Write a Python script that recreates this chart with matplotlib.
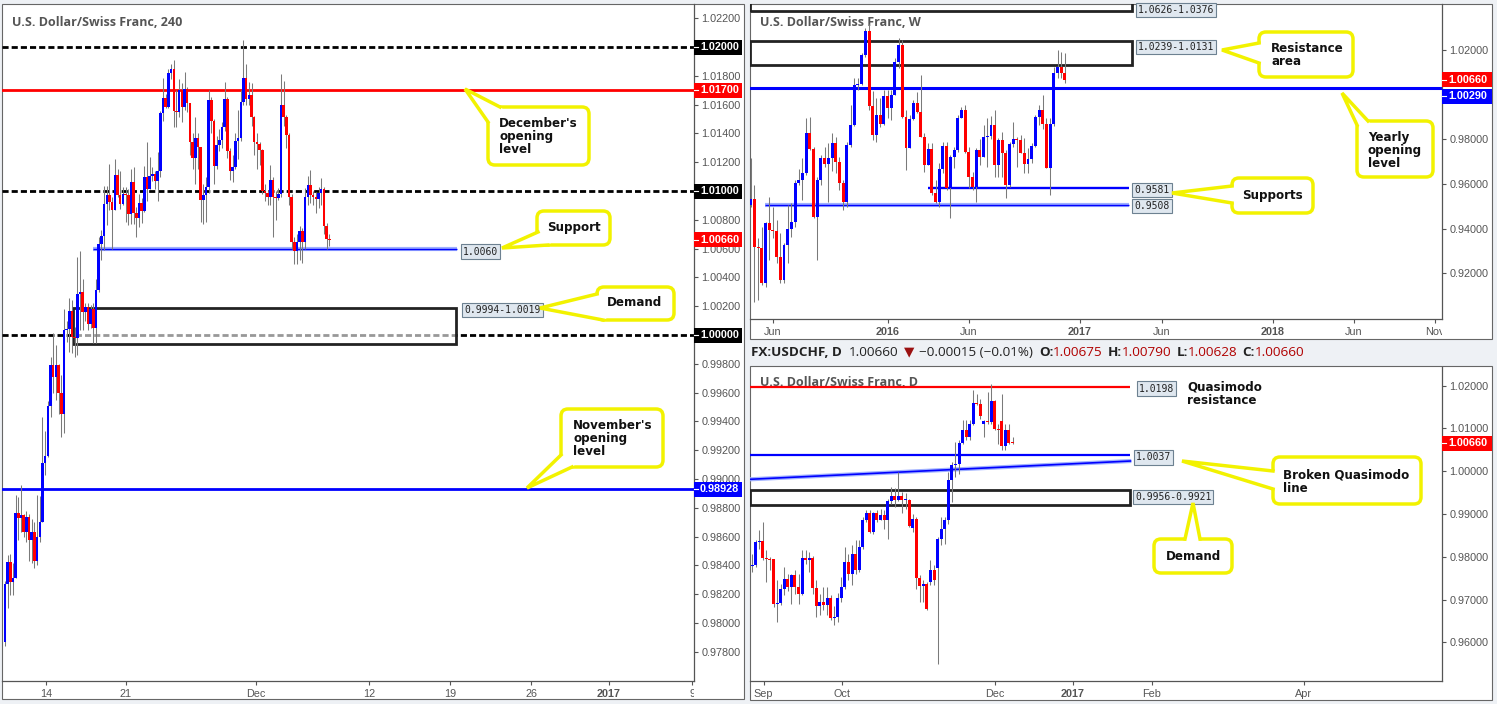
import matplotlib
matplotlib.use("Agg")
import matplotlib.pyplot as plt
import numpy as np
from matplotlib.patches import Rectangle, FancyBboxPatch, Polygon
from matplotlib.lines import Line2D
from matplotlib.transforms import IdentityTransform, Bbox, TransformedBbox

# ---------------- data ----------------
# 4H candles (open of each bar = previous close)
h4_open0 = 0.97870
h4_close = [0.98271, 0.98421, 0.98287, 0.98310, 0.98762, 0.98727, 0.98748, 0.98634, 0.98734, 0.98576,
            0.98634, 0.98431, 0.98595, 0.98701, 0.99109, 0.99160, 0.99507, 0.99792, 0.99711, 0.99792,
            0.99600, 0.99451, 1.00035, 1.00039, 1.00166, 0.99988, 0.99977, 1.00288, 1.00300, 1.00161,
            1.00196, 1.00074, 1.00184, 1.00046, 1.00316, 1.00630, 1.00685, 1.00907, 1.00969, 1.00923,
            1.00870, 1.01112, 1.00973, 1.00911, 1.00980, 1.00969, 1.00842, 1.01061, 1.00847, 1.00814,
            1.00918, 1.00860, 1.01100, 1.01015, 1.01107, 1.01119, 1.01073, 1.01142, 1.01539, 1.01649,
            1.01585, 1.01822, 1.01845, 1.01557, 1.01552, 1.01700, 1.01587, 1.01707, 1.01608, 1.01338,
            1.01230, 1.01368, 1.01303, 1.00939, 1.00969, 1.01031, 1.01631, 1.01488, 1.01172, 1.01322,
            1.01356, 1.01446, 1.01638, 1.01280, 1.01142, 1.01165, 1.01345, 1.01366, 1.01619, 1.01783,
            1.01638, 1.01668, 1.01511, 1.01338, 1.01330, 1.01285, 1.01003, 1.00985, 1.00962, 1.01077,
            1.00962, 1.00950, 1.00980, 1.01599, 1.01511, 1.01389, 1.00962, 1.00646, 1.00584, 1.00646,
            1.00720, 1.00646, 1.00962, 1.01043, 1.00969, 1.00962, 1.00946, 1.00985, 1.01015, 1.00754,
            1.00669, 1.00660]
h4_high = [0.98290, 0.98472, 0.98479, 0.98414, 0.98889, 0.98877, 0.98958, 0.98760, 0.98780, 0.98760,
           0.98720, 0.98700, 0.98890, 0.98880, 0.99433, 0.99330, 0.99540, 0.99850, 1.00012, 0.99930,
           0.99800, 0.99720, 1.00178, 1.00100, 1.00254, 1.00242, 1.00058, 1.00542, 1.00584, 1.00392,
           1.00220, 1.00219, 1.00208, 1.00219, 1.00392, 1.00681, 1.00727, 1.01036, 1.01038, 1.01188,
           1.00957, 1.01223, 1.01153, 1.01142, 1.01027, 1.01027, 1.01015, 1.01153, 1.01165, 1.00888,
           1.00980, 1.00950, 1.01176, 1.01338, 1.01234, 1.01165, 1.01142, 1.01269, 1.01557, 1.01788,
           1.01672, 1.01845, 1.01880, 1.01908, 1.01700, 1.01780, 1.01750, 1.01830, 1.01720, 1.01610,
           1.01400, 1.01511, 1.01400, 1.01303, 1.01050, 1.01096, 1.01700, 1.01650, 1.01500, 1.01380,
           1.01430, 1.01480, 1.01760, 1.01650, 1.01300, 1.01250, 1.01400, 1.01560, 1.01700, 1.02050,
           1.01885, 1.01760, 1.01750, 1.01520, 1.01400, 1.01340, 1.01290, 1.01050, 1.01000, 1.01180,
           1.01100, 1.01000, 1.01020, 1.01815, 1.01765, 1.01530, 1.01400, 1.00980, 1.00680, 1.00700,
           1.00760, 1.00740, 1.01020, 1.01107, 1.01147, 1.01000, 1.00990, 1.01030, 1.01090, 1.01030,
           1.00777, 1.00700]
h4_low = [0.97842, 0.98102, 0.98194, 0.98194, 0.98565, 0.98576, 0.98634, 0.98599, 0.98560, 0.98430,
          0.98420, 0.98380, 0.98400, 0.98560, 0.98780, 0.99030, 0.99150, 0.99430, 0.99600, 0.99550,
          0.99450, 0.99294, 0.99320, 0.99950, 0.99885, 0.99873, 0.99850, 0.99862, 1.00035, 1.00035,
          1.00100, 1.00035, 1.00046, 0.99942, 0.99942, 1.00300, 1.00519, 1.00588, 1.00761, 1.00865,
          1.00600, 1.00865, 1.00957, 1.00877, 1.00900, 1.00784, 1.00761, 1.00773, 1.00773, 1.00681,
          1.00750, 1.00780, 1.00854, 1.00934, 1.01050, 1.01073, 1.01015, 1.00934, 1.01100, 1.01488,
          1.01580, 1.01580, 1.01780, 1.01446, 1.01446, 1.01511, 1.01480, 1.01560, 1.01550, 1.01250,
          1.01150, 1.01050, 1.01150, 1.00784, 1.00770, 1.00784, 1.00985, 1.01400, 1.01050, 1.01150,
          1.01280, 1.01300, 1.01420, 1.01230, 1.01080, 1.01061, 1.01150, 1.01220, 1.01350, 1.01600,
          1.01600, 1.01600, 1.01450, 1.01250, 1.01150, 1.01180, 1.00980, 1.00930, 1.00900, 1.00900,
          1.00681, 1.00800, 1.00940, 1.00960, 1.01450, 1.01300, 1.00900, 1.00600, 1.00496, 1.00496,
          1.00520, 1.00500, 1.00600, 1.00900, 1.00920, 1.00900, 1.00850, 1.00880, 1.00900, 1.00700,
          1.00600, 1.00620]
h4_tick_pos = [15.3, 45.1, 93.7, 135.8, 166.0, 196.3, 225.4, 256.4]
h4_tick_lab = ["14", "21", "Dec", "12", "19", "26", "2017", "9"]
h4_yticks = [0.978, 0.980, 0.982, 0.984, 0.986, 0.988, 0.990, 0.992, 0.994, 0.996, 0.998,
             1.000, 1.002, 1.004, 1.006, 1.008, 1.010, 1.012, 1.014, 1.016, 1.018, 1.020, 1.022]
h4_round_levels = [1.0200, 1.0100, 1.0000]
h4_dec_open = 1.0170
h4_nov_open = 0.98928
h4_support = 1.0060
h4_demand = (0.9994, 1.0019)

# weekly candles (open of each bar = previous close)
w_open0 = 0.95065
w_close = [0.95318, 0.93200, 0.93126, 0.91560, 0.94245, 0.93946, 0.93902, 0.92753, 0.91709, 0.93275,
           0.94006, 0.94319, 0.96064, 0.96183, 0.96482, 0.98271, 0.97556, 0.94543, 0.96183, 0.97153,
           0.96884, 0.97153, 0.97824, 0.97004, 0.96034, 0.95214, 0.97749, 0.98644, 1.00434, 1.00480,
           1.01776, 1.02865, 0.99494, 0.98197, 0.99092, 0.98689, 0.99942, 0.99390, 0.99987, 1.01478,
           1.02224, 0.99017, 0.97600, 0.98898, 0.99614, 0.99241, 0.98122, 0.96855, 0.97556, 0.95587,
           0.95214, 0.96661, 0.97720, 0.95811, 0.97227, 0.97526, 0.98943, 0.99315, 0.97451, 0.96333,
           0.95855, 0.97526, 0.97227, 0.98122, 0.98152, 0.98644, 0.96855, 0.97973, 0.97406, 0.95960,
           0.97794, 0.98003, 0.97973, 0.97406, 0.96899, 0.97108, 0.97705, 0.99017, 0.99315, 0.98689,
           0.96735, 0.98689, 1.00956, 1.01254, 1.00956, 1.00660]
w_high = [0.97153, 0.95960, 0.93573, 0.94095, 0.94300, 0.95438, 0.94990, 0.94394, 0.93797, 0.93350,
          0.95065, 0.95139, 0.96183, 0.96661, 0.97153, 0.98943, 0.99017, 0.97675, 0.96333, 0.97300,
          0.97675, 0.97824, 0.98271, 0.98122, 0.97227, 0.96183, 0.97898, 0.99539, 1.00733, 1.00733,
          1.01851, 1.02969, 1.03148, 1.00181, 0.99838, 0.99838, 1.00210, 1.00210, 1.00210, 1.01627,
          1.02522, 1.02447, 0.99315, 0.99092, 0.99763, 1.00135, 1.00881, 0.98271, 0.97824, 0.97824,
          0.96183, 0.96929, 0.97898, 0.97898, 0.97300, 0.97675, 0.99092, 0.99464, 0.99539, 0.97675,
          0.96557, 0.97600, 0.98003, 0.98644, 0.98943, 0.99047, 0.99315, 0.98048, 0.98346, 0.97526,
          0.97898, 0.98793, 0.98122, 0.98197, 0.98048, 0.97600, 0.97824, 0.99092, 0.99539, 0.99987,
          0.98943, 0.98943, 1.01254, 1.02001, 1.01925, 1.01851]
w_low = [0.94990, 0.90740, 0.90814, 0.91500, 0.91411, 0.92604, 0.93573, 0.92455, 0.91560, 0.91560,
         0.92455, 0.93648, 0.94095, 0.95960, 0.95289, 0.96408, 0.97526, 0.94500, 0.92604, 0.95960,
         0.96780, 0.95214, 0.96600, 0.96482, 0.95736, 0.94841, 0.94990, 0.97675, 0.98600, 1.00210,
         1.00434, 1.01700, 0.99315, 0.97973, 0.97898, 0.98569, 0.98644, 0.98943, 0.98868, 0.99987,
         1.01180, 0.98943, 0.96631, 0.97600, 0.98868, 0.99166, 0.98092, 0.96556, 0.96855, 0.95512,
         0.95139, 0.94990, 0.96482, 0.95736, 0.94468, 0.96735, 0.97451, 0.98943, 0.97376, 0.95811,
         0.95736, 0.95214, 0.96855, 0.97227, 0.96780, 0.98003, 0.96333, 0.96333, 0.96333, 0.95363,
         0.95885, 0.97675, 0.96780, 0.97376, 0.96482, 0.96482, 0.96929, 0.97675, 0.98644, 0.98480,
         0.96735, 0.95512, 0.98600, 1.00732, 1.00732, 1.00538]
w_tick_pos = [6.0, 37.0, 59.0, 89.0, 111.2, 141.3, 163.2, 185.1]
w_tick_lab = ["Jun", "2016", "Jun", "2017", "Jun", "2018", "Jun", "Nov"]
w_yticks = [0.92, 0.94, 0.96, 0.98, 1.00, 1.02]
w_yearly_open = 1.0029
w_supports = [0.9581, 0.9508]
w_resistance = (1.0131, 1.0239)
w_upper_zone = (1.0376, 1.0626)

# daily candles
d_open = [0.97780, 0.97804, 0.98349, 0.98364, 0.97983, 0.97960, 0.97940, 0.96908, 0.96924, 0.97259,
          0.97492, 0.97300, 0.97570, 0.97297, 0.97142, 0.97983, 0.97936, 0.97983, 0.97282, 0.96854,
          0.96947, 0.96869, 0.97048, 0.96581, 0.96600, 0.97048, 0.97297, 0.97882, 0.97609, 0.98076,
          0.97687, 0.98232, 0.98871, 0.99034, 0.98583, 0.99026, 0.98871, 0.98972, 0.98855, 0.99307,
          0.99416, 0.99322, 0.99416, 0.99322, 0.99338, 0.98684, 0.98894, 0.97516, 0.97313, 0.97375,
          0.97414, 0.97702, 0.97749, 0.98427, 0.98645, 0.98855, 0.99790, 1.00140, 1.00179, 1.00670,
          1.00974, 1.00802, 1.01098, 1.01597, 1.01581, 1.01114, 1.01176, 1.01153, 1.01636, 1.00997,
          1.01176, 1.00584, 1.00958, 1.00675]
d_close = [0.97804, 0.98349, 0.98364, 0.97983, 0.97960, 0.97940, 0.96908, 0.96924, 0.97259, 0.97492,
           0.97300, 0.97570, 0.97297, 0.97142, 0.97983, 0.97936, 0.97983, 0.97282, 0.96854, 0.96947,
           0.96869, 0.97048, 0.96581, 0.96600, 0.97048, 0.97297, 0.97882, 0.97609, 0.98076, 0.97687,
           0.98232, 0.98871, 0.99034, 0.98583, 0.99026, 0.98871, 0.98972, 0.98855, 0.99307, 0.99416,
           0.99322, 0.99416, 0.99322, 0.99338, 0.98723, 0.98894, 0.97516, 0.97313, 0.97375, 0.96791,
           0.97702, 0.97450, 0.98427, 0.98645, 0.98855, 0.99790, 1.00140, 1.00179, 1.00670, 1.00974,
           1.00802, 1.01098, 1.01597, 1.01581, 1.01285, 1.01176, 1.01153, 1.01636, 1.00997, 1.00974,
           1.00584, 1.00958, 1.00662, 1.00660]
d_high = [0.98076, 0.98403, 0.98621, 0.98816, 0.98154, 0.98000, 0.97960, 0.97453, 0.97375, 0.97765,
          0.97600, 0.97609, 0.97687, 0.97609, 0.98170, 0.98154, 0.98115, 0.98020, 0.97453, 0.97142,
          0.97297, 0.97297, 0.97103, 0.96850, 0.97150, 0.97531, 0.98232, 0.98076, 0.98271, 0.98388,
          0.98403, 0.98933, 0.99089, 0.99089, 0.99050, 0.99089, 0.99128, 0.99089, 0.99361, 0.99634,
          0.99611, 0.99984, 0.99525, 0.99500, 0.99361, 0.99011, 0.98933, 0.97570, 0.97453, 0.97414,
          0.97921, 0.97800, 0.98466, 0.98933, 0.98933, 0.99984, 1.00218, 1.00685, 1.00724, 1.01207,
          1.01192, 1.01207, 1.01893, 1.01815, 1.01698, 1.01200, 1.01854, 1.02048, 1.01659, 1.01114,
          1.01815, 1.01114, 1.01114, 1.00790]
d_low = [0.97648, 0.97765, 0.98193, 0.97921, 0.97414, 0.97700, 0.96830, 0.96480, 0.96869, 0.97103,
         0.97200, 0.96908, 0.97142, 0.96908, 0.97103, 0.97843, 0.97648, 0.97142, 0.96597, 0.96636,
         0.96752, 0.96636, 0.96519, 0.96400, 0.96480, 0.96947, 0.97259, 0.97453, 0.97336, 0.97609,
         0.97650, 0.98193, 0.98816, 0.98559, 0.98544, 0.98816, 0.98855, 0.98660, 0.98427, 0.99245,
         0.99167, 0.99300, 0.99034, 0.99128, 0.98699, 0.98583, 0.97259, 0.96947, 0.96947, 0.96752,
         0.97336, 0.97350, 0.95506, 0.98271, 0.98310, 0.98777, 0.99283, 0.99868, 0.99945, 1.00631,
         1.00724, 1.00724, 1.01075, 1.01542, 1.01231, 1.00802, 1.01114, 1.01114, 1.00958, 1.00646,
         1.00491, 1.00491, 1.00646, 1.00628]
d_tick_pos = [3.2, 25.2, 68.0, 89.9, 112.0, 154.7]
d_tick_lab = ["Sep", "Oct", "Dec", "2017", "Feb", "Apr"]
d_yticks = [0.96, 0.97, 0.98, 0.99, 1.00, 1.01, 1.02]
d_qm_resistance = 1.0198
d_broken_qm = 1.0037
d_demand = (0.9921, 0.9956)
d_trend_x = [-0.6, 106.3]
d_trend_y = [0.99813, 1.00241]
last_price = 1.00660

# ---------------- figure ----------------
W, H = 1497, 704
PX = IdentityTransform()
BLUE, RED, WICK, GREY, YEL = "#0000ff", "#ff0000", "#7a7a7a", "#555555", "#f2f200"

plt.rcParams["font.family"] = ["Liberation Sans", "DejaVu Sans"]
fig = plt.figure(figsize=(W / 100, H / 100), dpi=100)
fig.patch.set_facecolor("#eef1f5")


def frame(x0, y0, x1, y1):
    fig.add_artist(Rectangle((x0, H - y1), x1 - x0, y1 - y0, transform=PX,
                             fc="white", ec="#666666", lw=0.8, zorder=-1))


def make_axes(x0, y0, x1, y1, xlim, ylim):
    ax = fig.add_axes([x0 / W, 1 - y1 / H, (x1 - x0) / W, (y1 - y0) / H])
    ax.set_facecolor("none")
    ax.spines["left"].set_visible(False)
    ax.spines["top"].set_visible(False)
    for s in ("right", "bottom"):
        ax.spines[s].set_color(GREY)
        ax.spines[s].set_linewidth(0.9)
    ax.yaxis.tick_right()
    ax.tick_params(axis="both", colors=GREY, labelcolor=GREY, labelsize=7.8,
                   length=3, width=0.8, pad=2.5)
    ax.set_xlim(*xlim)
    ax.set_ylim(*ylim)
    return ax


def candles(ax, o, h, l, c, width):
    o, h, l, c = (np.asarray(v, dtype=float) for v in (o, h, l, c))
    h = np.maximum(h, np.maximum(o, c))
    l = np.minimum(l, np.minimum(o, c))
    x = np.arange(len(c))
    y0, y1 = ax.get_ylim()
    onepx = (y1 - y0) / ax.bbox.height
    body = c - o
    body = np.where(np.abs(body) < onepx, np.where(body >= 0, onepx, -onepx), body)
    col = np.where(c >= o, BLUE, RED)
    ax.vlines(x, l, h, color=WICK, lw=0.75, zorder=3)
    ax.bar(x, body, bottom=o, width=width, color=col, lw=0, zorder=4)


def set_dates(ax, pos, labs, clip_right=None):
    ax.set_xticks(pos)
    ax.set_xticklabels(labs, fontsize=7.8)
    for tk, lab in zip(ax.xaxis.get_major_ticks(), labs):
        if lab.isdigit() and len(lab) == 4:
            tk.label1.set_fontweight("bold")
    if clip_right is not None:
        tk = ax.xaxis.get_major_ticks()[-1]
        tk.label1.set_clip_box(TransformedBbox(Bbox.from_extents(0, 0, clip_right, H), PX))
        tk.label1.set_clip_on(True)


def price_tag(ax, price, text, bg, dy=0, wpx=48):
    xd = ax.transAxes.transform((1, 0))[0]
    yd = ax.transData.transform((0, price))[1] - dy
    fig.add_artist(Rectangle((xd, yd - 7.5), wpx, 15, transform=PX, fc=bg, ec="none", zorder=5))
    fig.add_artist(Line2D([xd, xd + 4], [yd, yd], transform=PX, color="white", lw=0.8, zorder=6))
    fig.text(xd + 6, yd, text, transform=PX, ha="left", va="center", fontsize=7.8,
             fontweight="bold", color="white", zorder=6)


def level_label(ax, x, price, text, dy=0, dx=6):
    ax.annotate(text, xy=(x, price), xycoords="data", xytext=(dx, -dy), textcoords="offset pixels",
                ha="left", va="center", fontsize=7, family="DejaVu Sans Mono", color="#222222",
                bbox=dict(boxstyle="square,pad=0.22", fc="#dfe7ef", ec="#6d8191", lw=0.8),
                zorder=10, annotation_clip=False)


def callout(box, tip, b1, b2, text, txy):
    x0, y0, x1, y1 = box
    fig.add_artist(FancyBboxPatch((x0, H - y1), x1 - x0, y1 - y0,
                                  boxstyle="round,pad=0,rounding_size=7", transform=PX,
                                  fc="white", ec=YEL, lw=2.5, zorder=20))
    cx, cy = (x0 + x1) / 2, (y0 + y1) / 2

    def inward(p, d=9):
        vx, vy = cx - p[0], cy - p[1]
        n = np.hypot(vx, vy)
        return (p[0] + vx / n * d, p[1] + vy / n * d)

    pts = [tip, b1, inward(b1), inward(b2), b2]
    fig.add_artist(Polygon([(px, H - py) for px, py in pts], closed=True, transform=PX,
                           fc="white", ec="none", zorder=21))
    fig.add_artist(Line2D([b1[0], tip[0], b2[0]], [H - b1[1], H - tip[1], H - b2[1]],
                          transform=PX, color=YEL, lw=2.5, zorder=22, solid_joinstyle="miter"))
    fig.text(txy[0], H - txy[1], text, transform=PX, ha="left", va="top", fontsize=8.6,
             fontweight="bold", family="DejaVu Sans", color="#111111", linespacing=1.0, zorder=23)


def title(x, y, s):
    fig.text(x, H - y, s, transform=PX, ha="left", va="center", fontsize=9,
             fontweight="bold", family=["Open Sans", "DejaVu Sans"], color=GREY, zorder=-0.5)


# panel frames
frame(2, 4, 744, 699)
frame(750, 4, 1492, 339)
frame(750, 366, 1492, 700)

# ---------------- left: 4H ----------------
ax1 = make_axes(2, 4, 694, 681, (-1.1, 257.1), (0.97597, 1.02299))
ax1.set_yticks(h4_yticks)
ax1.yaxis.set_major_formatter(plt.FormatStrFormatter("%.5f"))
set_dates(ax1, h4_tick_pos, h4_tick_lab, clip_right=694)
for lv in h4_round_levels:
    ax1.axhline(lv, color="black", lw=2, dashes=(2.2, 1.1), zorder=1.5)
ax1.axhline(h4_dec_open, color=RED, lw=2, zorder=1.6)
ax1.axhline(h4_nov_open, color=BLUE, lw=2, zorder=1.6)
ax1.add_patch(Rectangle((25.4, h4_demand[0]), 168.3 - 25.4, h4_demand[1] - h4_demand[0],
                        fc=(1, 1, 1, 0.6), ec="#222222", lw=2.0, zorder=2))
ax1.hlines(h4_support, 32.8, 168.7, color="#9fb0ff", lw=3, zorder=2)
ax1.hlines(h4_support, 32.8, 168.7, color=BLUE, lw=1.0, zorder=2.1)
h4_open = [h4_open0] + h4_close[:-1]
candles(ax1, h4_open, h4_high, h4_low, h4_close, 0.95)
level_label(ax1, 168.7, h4_support, "1.0060", dy=3)
level_label(ax1, 168.3, h4_demand[1], "0.9994-1.0019", dy=2, dx=8)
price_tag(ax1, 1.0200, "1.02000", "black")
price_tag(ax1, h4_dec_open, "1.01700", RED)
price_tag(ax1, 1.0100, "1.01000", "black")
price_tag(ax1, last_price, "1.00660", RED)
price_tag(ax1, 1.0000, "1.00000", "black")
price_tag(ax1, h4_nov_open, "0.98928", BLUE)
title(12, 22, "U.S. Dollar/Swiss Franc, 240")

# ---------------- right top: weekly ----------------
ax2 = make_axes(750, 4, 1442, 319, (-0.2, 187.0), (0.89964, 1.04058))
ax2.set_yticks(w_yticks)
ax2.yaxis.set_major_formatter(plt.FormatStrFormatter("%.5f"))
set_dates(ax2, w_tick_pos, w_tick_lab, clip_right=1442)
ax2.axhline(w_yearly_open, color=BLUE, lw=2.2, zorder=1.6)
ax2.hlines(w_supports[0], 47.9, 102.2, color=BLUE, lw=1.7, zorder=2)
ax2.hlines(w_supports[1], 3.8, 102.2, color="#9fb0ff", lw=3, zorder=2)
ax2.hlines(w_supports[1], 3.8, 102.2, color=BLUE, lw=1.0, zorder=2.1)
for lo, hi in (w_resistance, w_upper_zone):
    ax2.add_patch(Rectangle((-0.2, lo), 103.3, hi - lo, fc="none", ec="#222222", lw=2.0, zorder=2))
w_open = [w_open0] + w_close[:-1]
candles(ax2, w_open, w_high, w_low, w_close, 0.8)
level_label(ax2, 103.1, w_upper_zone[0], "1.0626-1.0376", dy=-1)
level_label(ax2, 103.1, w_resistance[1], "1.0239-1.0131", dy=6)
level_label(ax2, 102.2, w_supports[0], "0.9581", dy=2)
level_label(ax2, 102.2, w_supports[1], "0.9508", dy=1)
price_tag(ax2, last_price, "1.00660", RED, wpx=50)
price_tag(ax2, w_yearly_open, "1.00290", BLUE, dy=8, wpx=50)
title(760, 22, "U.S. Dollar/Swiss Franc, W")

# ---------------- right bottom: daily ----------------
ax3 = make_axes(750, 367, 1442, 681, (-0.6, 193.4), (0.951, 1.02437))
ax3.set_yticks(d_yticks)
ax3.yaxis.set_major_formatter(plt.FormatStrFormatter("%.5f"))
set_dates(ax3, d_tick_pos, d_tick_lab)
ax3.hlines(d_qm_resistance, -0.6, 105.9, color=RED, lw=1.6, zorder=2)
ax3.hlines(d_broken_qm, -0.6, 105.9, color=BLUE, lw=1.6, zorder=2)
ax3.plot(d_trend_x, d_trend_y, color="#9fb0ff", lw=3, zorder=2, solid_capstyle="butt")
ax3.plot(d_trend_x, d_trend_y, color=BLUE, lw=1.2, zorder=2.1, solid_capstyle="butt")
ax3.add_patch(Rectangle((-0.6, d_demand[0]), 106.5, d_demand[1] - d_demand[0],
                        fc="none", ec="#222222", lw=2.0, zorder=2))
candles(ax3, d_open, d_high, d_low, d_close, 0.84)
level_label(ax3, 105.9, d_qm_resistance, "1.0198", dy=2, dx=9)
level_label(ax3, 105.9, d_broken_qm, "1.0037", dy=2, dx=6)
level_label(ax3, 105.9, d_demand[1], "0.9956-0.9921", dy=7, dx=5)
price_tag(ax3, last_price, "1.00660", RED, wpx=50)
title(760, 383, "U.S. Dollar/Swiss Franc, D")

# header line of the daily panel
header = [("FX:USDCHF, D", "bold", "#222222", 7), ("1.00660", "normal", "#222222", 5),
          ("\u25bc", "normal", "#9b1111", 5), ("\u22120.00015 (\u22120.01%)", "normal", "#222222", 6),
          ("O:", "bold", "#222222", 0), ("1.00675", "normal", "#b00000", 5),
          ("H:", "bold", "#222222", 0), ("1.00790", "normal", "#b00000", 5),
          ("L:", "bold", "#222222", 0), ("1.00628", "normal", "#b00000", 5),
          ("C:", "bold", "#222222", 0), ("1.00660", "normal", "#b00000", 0)]
renderer = fig.canvas.get_renderer()
hx = 751
for s, wt, col, gap in header:
    t = fig.text(hx, H - 352, s, transform=PX, ha="left", va="center", fontsize=9.7,
                 fontweight=wt, color=col, family=["Open Sans", "DejaVu Sans"])
    hx = t.get_window_extent(renderer).x1 + gap

# ---------------- callouts ----------------
callout((488, 107, 589, 165), (465, 89), (500, 107), (488, 122),
        "December's\nopening\nlevel", (499, 117))
callout((537, 211, 610, 245), (502, 248), (538, 232), (548, 245), "Support", (547, 221))
callout((597, 287, 674, 320), (540, 308), (597, 294), (603, 320), "Demand", (607, 296))
callout((561, 409, 663, 467), (527, 488), (561, 455), (572, 467),
        "November's\nopening\nlevel", (573, 419))
callout((1259, 32, 1353, 77), (1222, 50), (1259, 43), (1259, 63), "Resistance\narea", (1271, 42))
callout((1357, 121, 1433, 177), (1342, 93), (1357, 125), (1368, 121),
        "Yearly\nopening\nlevel", (1368, 131))
callout((1232, 178, 1313, 213), (1172, 193), (1232, 186), (1232, 203), "Supports", (1242, 189))
callout((1273, 457, 1421, 504), (1182, 461), (1273, 471), (1273, 489),
        "Broken Quasimodo\nline", (1283, 469))
callout((1154, 539, 1232, 573), (1193, 503), (1185, 539), (1200, 539), "Demand", (1166, 550))
fig.text(1187, H - 381, "Quasimodo\nresistance", transform=PX, ha="left", va="top", fontsize=8.6,
         fontweight="bold", family="DejaVu Sans", color="#111111", linespacing=1.0, zorder=23)

fig.savefig("out.png", dpi=100)
